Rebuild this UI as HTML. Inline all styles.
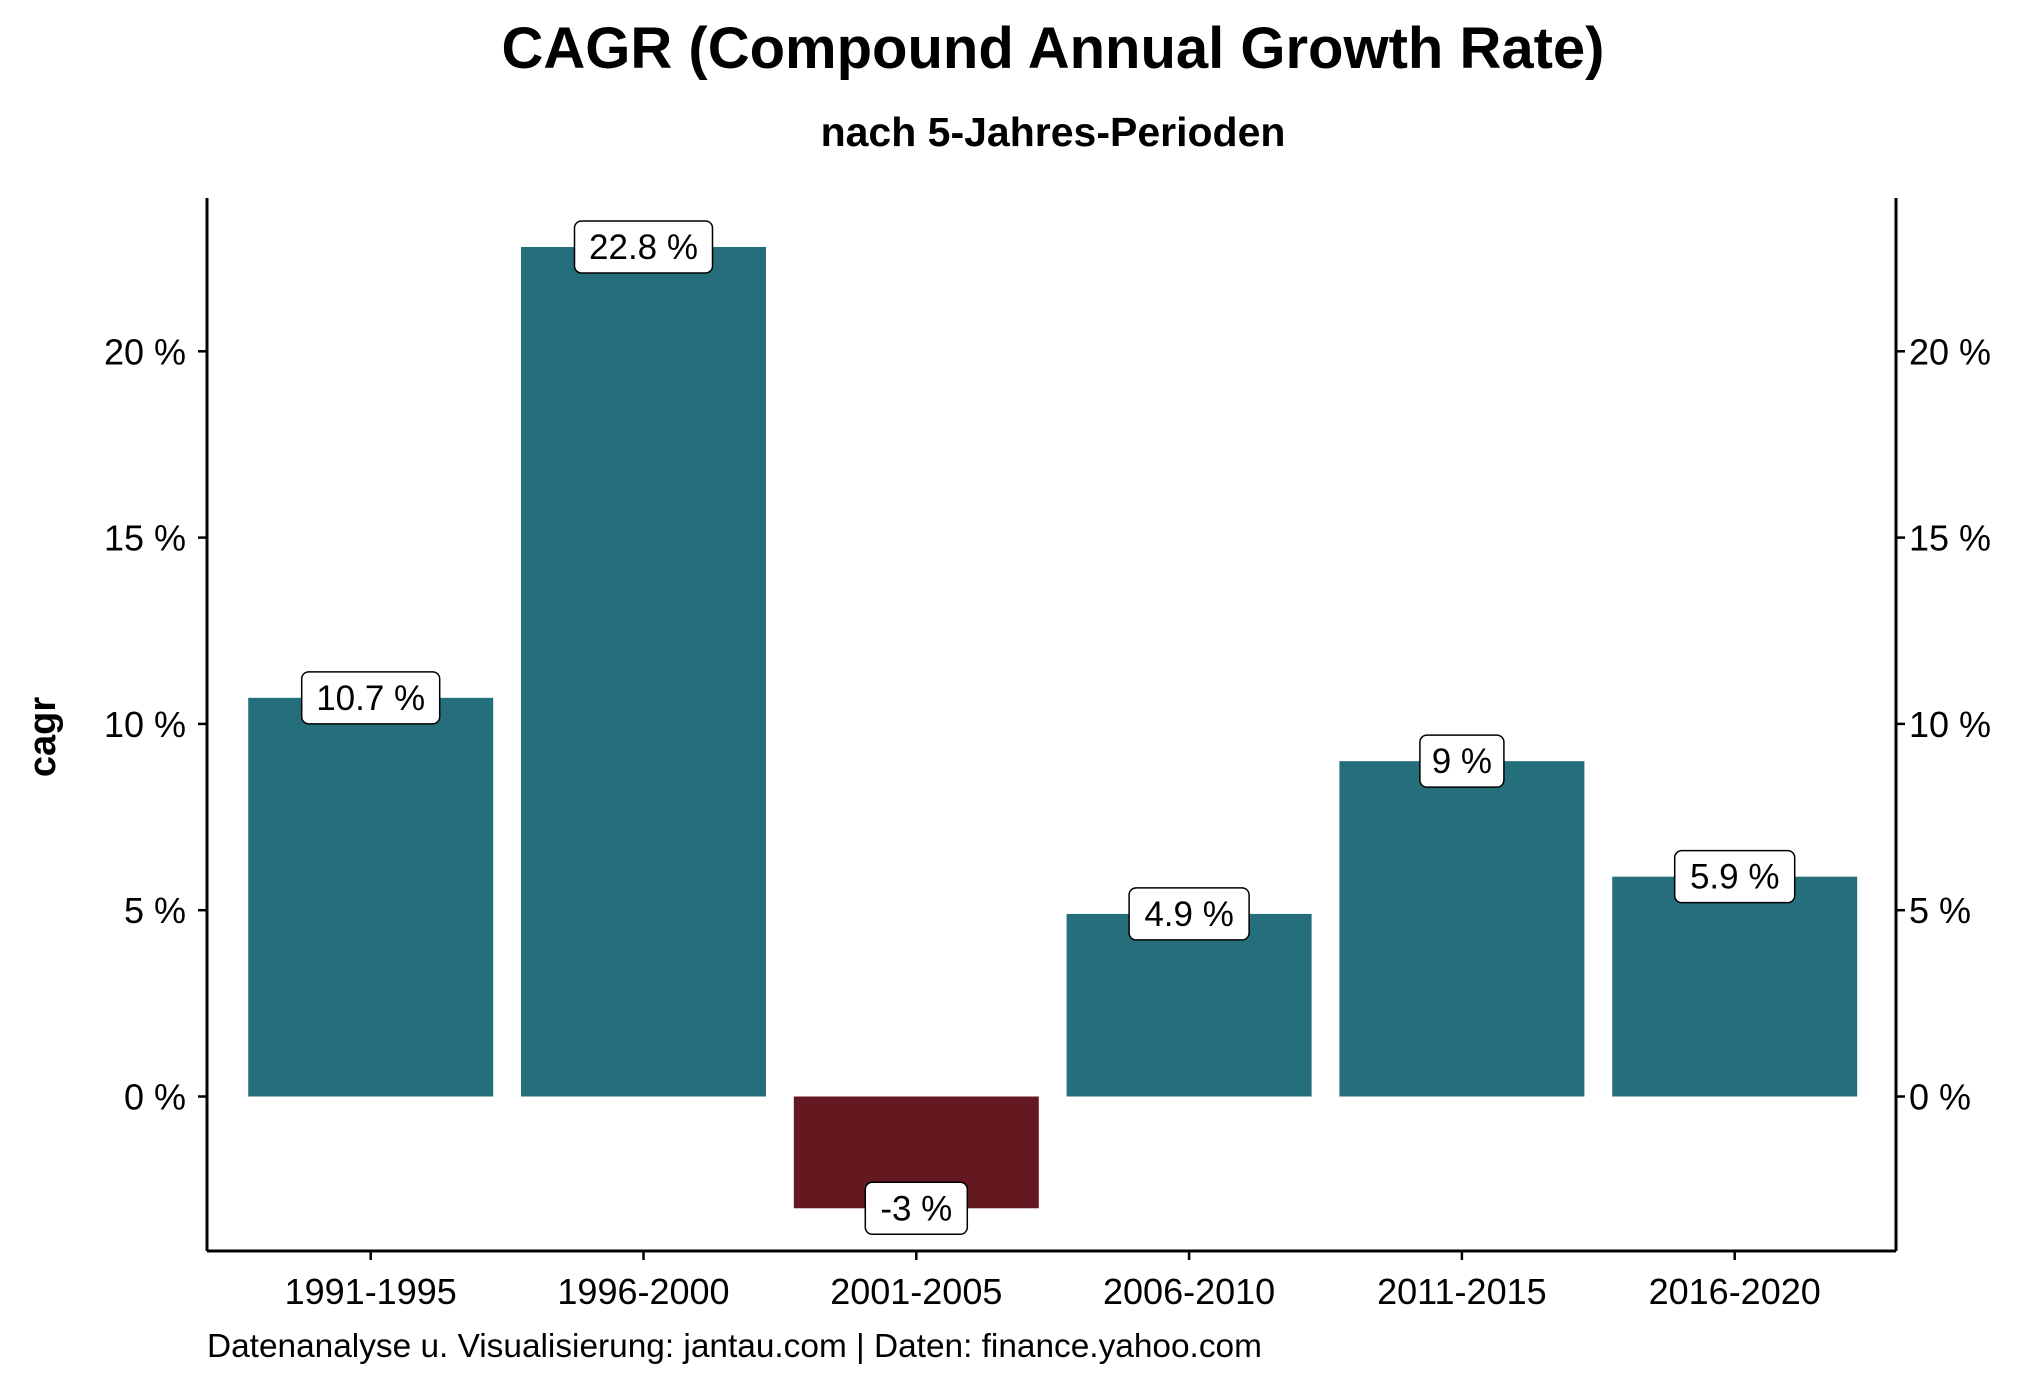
<!DOCTYPE html>
<html><head><meta charset="utf-8"><style>
body{margin:0;background:#fff;}
svg text{font-family:"Liberation Sans",sans-serif;fill:#000;}
</style></head><body>
<svg id="chart" width="2025" height="1387" xmlns="http://www.w3.org/2000/svg">
<text x="1053" y="68" text-anchor="middle" font-size="58" font-weight="bold">CAGR (Compound Annual Growth Rate)</text>
<text x="1053" y="146" text-anchor="middle" font-size="41" font-weight="bold">nach 5-Jahres-Perioden</text>
<text transform="translate(55,737) rotate(-90)" text-anchor="middle" font-size="38" font-weight="bold">cagr</text>
<text x="207" y="1357" font-size="33.4">Datenanalyse u. Visualisierung: jantau.com | Daten: finance.yahoo.com</text>
<g id="marks"></g>
</svg>
<script>
const categories=["1991-1995","1996-2000","2001-2005","2006-2010","2011-2015","2016-2020"];
const values=[10.7,22.8,-3,4.9,9,5.9];
const labels=["10.7 %","22.8 %","-3 %","4.9 %","9 %","5.9 %"];
const yTicks=[0,5,10,15,20];
const yTickLabels=["0 %","5 %","10 %","15 %","20 %"];

const NS="http://www.w3.org/2000/svg";
const g=document.getElementById('marks');
const L=207,R=1896,T=198,B=1251;
const y0=1096.5,pxPer=(1096.5-351.3)/20;
function y(v){return y0-v*pxPer;}
const step=272.8,x0=370.7;
function x(i){return x0+i*step;}
const bw=245;
function mk(tag,attrs){const e=document.createElementNS(NS,tag);for(const k in attrs)e.setAttribute(k,attrs[k]);g.appendChild(e);return e;}

values.forEach((v,i)=>{
  const r=mk('rect',{x:x(i)-bw/2,y:Math.min(y(v),y(0)),width:bw,height:Math.abs(y(v)-y(0)),fill:v<0?'#63191F':'#246F7B'});
  
  
});
values.forEach((v,i)=>{
  const w=labels[i].length*18+30;
  const b=mk('rect',{x:x(i)-w/2,y:y(v)-26,width:w,height:52,rx:7,fill:'#fff',stroke:'#000','stroke-width':1.5});
  
  
  const t=mk('text',{x:x(i),y:y(v)+12,'text-anchor':'middle','font-size':35});
  t.textContent=labels[i];
  
  
});
const ax=[[L,T,L,B],[R,T,R,B],[L,B,R,B]];
ax.forEach(a=>{const l=mk('line',{x1:a[0],y1:a[1],x2:a[2],y2:a[3],stroke:'#000','stroke-width':3});

});
yTicks.forEach((v,i)=>{
  mk('line',{x1:L-9,x2:L,y1:y(v),y2:y(v),stroke:'#000','stroke-width':2.5});
  mk('line',{x1:R,x2:R+9,y1:y(v),y2:y(v),stroke:'#000','stroke-width':2.5});
  const t1=mk('text',{x:L-21,y:y(v)+13,'text-anchor':'end','font-size':36});
  t1.textContent=yTickLabels[i];
  
  
  const t2=mk('text',{x:R+13,y:y(v)+13,'font-size':36});
  t2.textContent=yTickLabels[i];
  
  
});
categories.forEach((c,i)=>{
  mk('line',{x1:x(i),x2:x(i),y1:B,y2:B+9,stroke:'#000','stroke-width':2.5});
  const t=mk('text',{x:x(i),y:1304,'text-anchor':'middle','font-size':36});
  t.textContent=c;
  
  
});
</script>
</body></html>
